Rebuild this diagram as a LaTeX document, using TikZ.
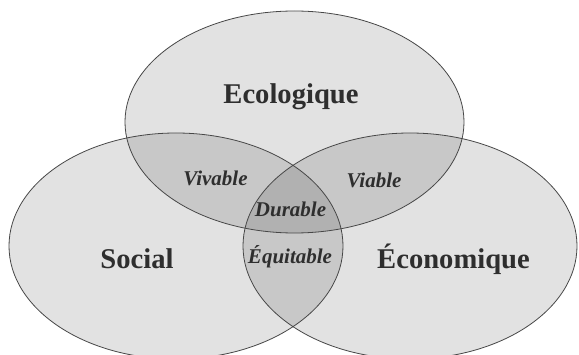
\documentclass[tikz,border=0pt]{standalone}
\usepackage{fontspec}
\setmainfont{Liberation Serif}
\tikzset{
  setfill/.style={fill=black, fill opacity=0.115, draw=none},
  setline/.style={draw=black!72, line width=0.8pt},
  bigtxt/.style={font=\bfseries\fontsize{28.6}{30}\selectfont, text=black!82},
  smalltxt/.style={font=\bfseries\itshape\fontsize{21}{23}\selectfont, text=black!82, inner sep=0pt}
}
\begin{document}
\begin{tikzpicture}[x=1pt,y=-1pt]
\useasboundingbox (0,0) rectangle (579,355);
\fill[white] (0,0) rectangle (579,355);
% fills
\fill[setfill] (294.5,122) ellipse [x radius=169.5, y radius=111];
\fill[setfill] (176,246) ellipse [x radius=167, y radius=113];
\fill[setfill] (410,246) ellipse [x radius=167, y radius=113];
% outlines
\draw[setline] (294.5,122) ellipse [x radius=169.5, y radius=111];
\draw[setline] (176,246) ellipse [x radius=167, y radius=113];
\draw[setline] (410,246) ellipse [x radius=167, y radius=113];
% labels
\node[bigtxt] (eco) at (291,97) {Ecologique};
\node[bigtxt] (soc) at (137,259) {Social};
\node[bigtxt] (econ) at (453.5,259) {Économique};
\node[smalltxt] (viv) at (215.5,178) {Vivable};
\node[smalltxt] (via) at (374,180) {Viable};
\node[smalltxt] (dur) at (290.5,209) {Durable};
\node[smalltxt] (equ) at (290,257) {Équitable};
\end{tikzpicture}
\end{document}
